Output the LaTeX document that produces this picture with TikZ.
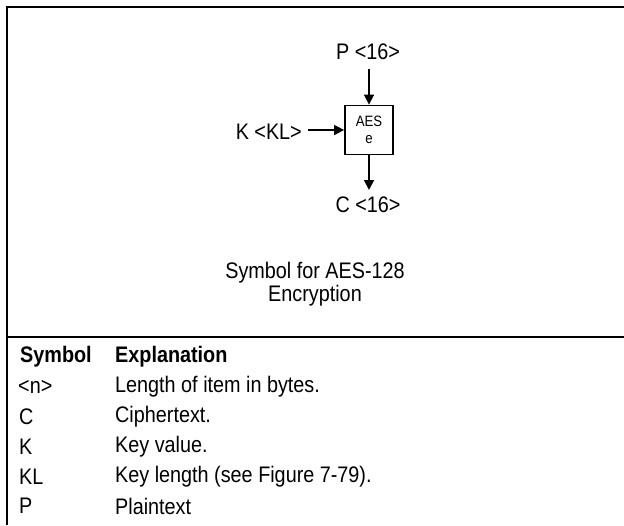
\documentclass[tikz,border=0pt]{standalone}
\usepackage{fontspec}
\setmainfont{Liberation Sans}[FakeStretch=0.88]
\usetikzlibrary{arrows.meta}
\begin{document}
\begin{tikzpicture}[x=1pt,y=-1pt,
  frame/.style={line width=2.6pt},
  lbl/.style={font=\fontsize{22.5}{23}\selectfont, inner sep=0pt},
  boxsym/.style={draw, line width=1.8pt, minimum width=48pt, minimum height=49pt, inner sep=0pt, align=center, font=\fontsize{15}{16.5}\selectfont},
  arr/.style={line width=1.6pt, -{Triangle[length=10pt,width=10pt]}},
  cell/.style={font=\fontsize{22.5}{23}\selectfont, anchor=west, inner sep=0pt},
  headcell/.style={cell, font=\fontsize{22.5}{23}\selectfont\bfseries}]
\useasboundingbox (0,0) rectangle (624,525);
% frame
\draw[frame] (7,525) -- (7,7) -- (624,7);
\draw[frame] (7,337) -- (624,337);
% symbol
\node[boxsym] (aes) at (369,130) {AES\\e};
\node[lbl] (p) at (368,52) {P <16>};
\node[lbl] (c) at (368,204.5) {C <16>};
\node[lbl, anchor=east] (k) at (302,131.5) {K <KL>};
\coordinate (pin) at (aes.north |- 0,69);
\coordinate (cout) at (aes.south |- 0,190);
\coordinate (kin) at (308,130);
\draw[arr] (pin) -- (aes.north);
\draw[arr] (aes.south) -- (cout);
\draw[arr] (kin) -- (aes.west);
\node[lbl, align=center] (cap) at (315,284) {Symbol for AES-128\\Encryption};
% table
\node[headcell] (h1) at (20,357) {Symbol};
\node[headcell] (h2) at (115,357) {Explanation};
\node[cell] (s1) at (18,387) {<n>};
\node[cell] (e1) at (115,387) {Length of item in bytes.};
\node[cell] (s2) at (19,417) {C};
\node[cell] (e2) at (115,417) {Ciphertext.};
\node[cell] (s3) at (19,447) {K};
\node[cell] (e3) at (115,447) {Key value.};
\node[cell] (s4) at (19,477) {KL};
\node[cell] (e4) at (115,477) {Key length (see Figure 7-79).};
\node[cell] (s5) at (19,506) {P};
\node[cell] (e5) at (115,506) {Plaintext};
\end{tikzpicture}
\end{document}
